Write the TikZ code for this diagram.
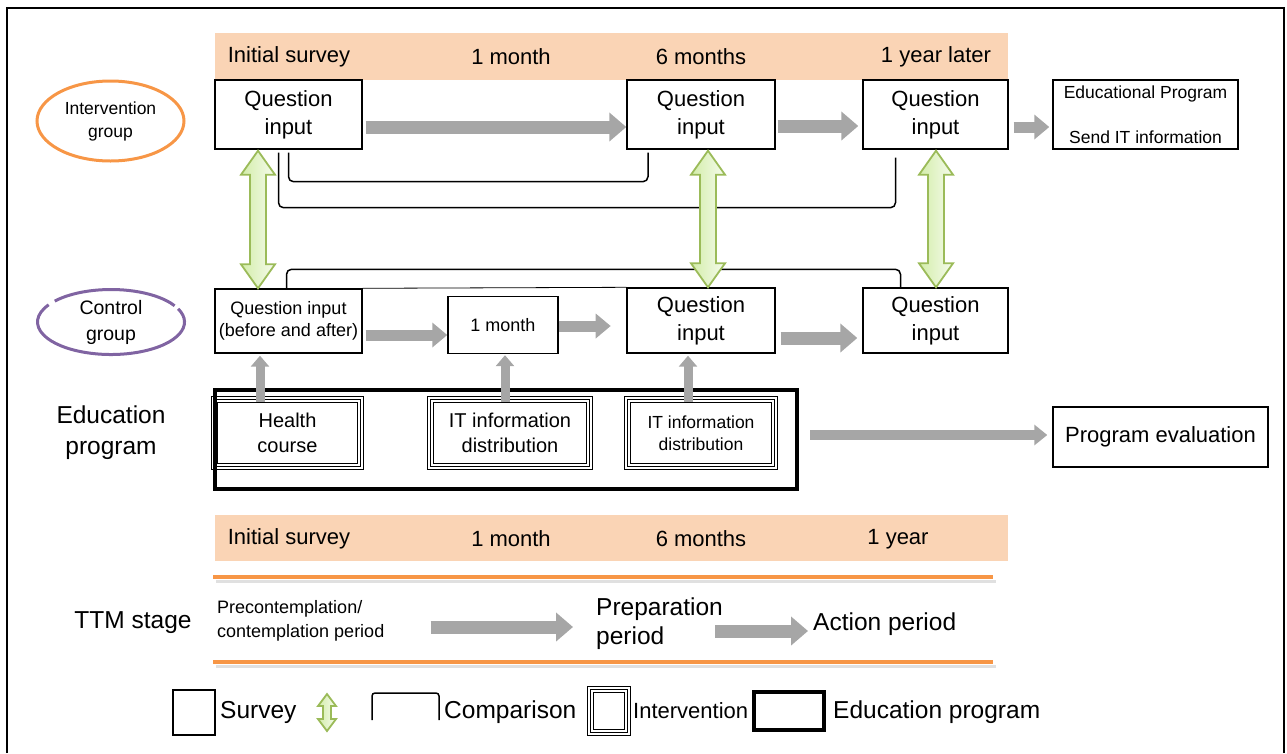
\documentclass[tikz,border=0pt]{standalone}
\usepackage{fontspec}
\setmainfont{Liberation Sans}
\usetikzlibrary{calc,arrows.meta,shapes.geometric}
\definecolor{band}{HTML}{FAD4B5}
\definecolor{agray}{HTML}{A6A6A6}
\definecolor{gline}{HTML}{9BBB59}
\definecolor{gfa}{HTML}{D3EDAA}
\definecolor{gfb}{HTML}{F5FBEC}
\definecolor{org}{HTML}{F79646}
\definecolor{purp}{HTML}{8064A2}
\newcommand\dblgreen[5]{%
 \path[gdbl] let \p1=(#1), \p2=(#2) in
 (\x1,\y1) -- (\x1+#3,\y1-#5) -- (\x1+#4,\y1-#5) -- (\x1+#4,\y2+#5) -- (\x1+#3,\y2+#5) -- (\x1,\y2)
 -- (\x1-#3,\y2+#5) -- (\x1-#4,\y2+#5) -- (\x1-#4,\y1-#5) -- (\x1-#3,\y1-#5) -- cycle;}
\newcommand\ivframe[1]{%
 \draw[line width=0.9pt] ([shift={(-2.3,-2.3)}]#1.north west) rectangle ([shift={(2.3,2.3)}]#1.south east);
 \draw[line width=0.8pt] ([shift={(-5.7,-5.7)}]#1.north west) rectangle ([shift={(5.7,5.7)}]#1.south east);}
\begin{document}
\begin{tikzpicture}[x=1pt,y=-1pt,
  box/.style={draw, line width=1.4pt, inner sep=0pt, align=center, fill=white},
  ivbox/.style={draw, line width=1pt, inner sep=0pt, align=center},
  thickbox/.style={draw, line width=4pt, inner sep=0pt},
  bandbox/.style={fill=band, inner sep=0pt},
  lbl/.style={inner sep=0pt, align=center},
  bigarr/.style={agray, line width=13pt, -{Triangle[width=28pt,length=17pt]}},
  medarr/.style={agray, line width=11pt, -{Triangle[width=24pt,length=15pt]}},
  varr/.style={agray, line width=9pt, -{Triangle[width=18pt,length=11pt]}},
  cmp/.style={draw, line width=1.5pt, rounded corners=5pt},
  gdbl/.style={draw=gline, line width=1.8pt, left color=gfa, right color=gfb},
  fA/.style={font=\fontsize{22}{28}\selectfont},
  fB/.style={font=\fontsize{24.5}{31}\selectfont}
]
\useasboundingbox (0,0) rectangle (1287,753);
% outer frame
\draw[line width=2pt] (7,753) -- (7,8) -- (1284,8) -- (1284,753);

% time bands
\node[bandbox, minimum width=793pt, minimum height=47pt] (TB) at (611.5,56.5) {};
\node[lbl, fA] (tb1) at (289,57) {Initial survey};
\node[lbl, fA] (tb2) at (511,57) {1 month};
\node[lbl, fA] (tb3) at (701,57) {6 months};
\node[lbl, fA] (tb4) at (936,57) {1 year later};
\node[bandbox, minimum width=793pt, minimum height=46pt] (BB) at (611.5,538) {};
\node[lbl, fA] (bb1) at (289,539) {Initial survey};
\node[lbl, fA] (bb2) at (511,539) {1 month};
\node[lbl, fA] (bb3) at (701,539) {6 months};
\node[lbl, fA] (bb4) at (898,539) {1 year};

% group ellipses
\node[ellipse, draw=org, line width=3pt, minimum width=147pt, minimum height=80pt, inner sep=0pt, align=center,
  font=\fontsize{17.5}{23}\selectfont] (IG) at (110.5,121) {Intervention\\group};
\node[ellipse, minimum width=147pt, minimum height=65pt, inner sep=0pt, align=center,
  font=\fontsize{19.5}{26}\selectfont] (CG) at (111,322) {Control\\group};
\draw[purp, line width=3pt] ($(CG.center)+({73.5*cos(-24)},{32.5*sin(-24)})$) arc[start angle=-24, end angle=212, x radius=73.5, y radius=32.5];
\draw[purp, line width=3pt] ($(CG.center)+({73.5*cos(220)},{32.5*sin(220)})$) arc[start angle=220, end angle=330, x radius=73.5, y radius=32.5];

% intervention row
\node[box, fA, minimum width=147pt, minimum height=69pt] (I1) at (288.5,114.5) {Question\\input};
\node[box, fA, minimum width=148pt, minimum height=69pt] (I2) at (701,114.5) {Question\\input};
\node[box, fA, minimum width=145pt, minimum height=69pt] (I3) at (935.5,114.5) {Question\\input};
\node[box, font=\fontsize{17.5}{21}\selectfont, minimum width=185pt, minimum height=69pt] (EP) at (1145.5,114.5) {Educational Program\\[24pt]Send IT information};

% control row
\node[box, font=\fontsize{18}{22}\selectfont, minimum width=147pt, minimum height=64pt] (C1) at (288.5,321) {Question input\\(before and after)};
\node[box, font=\fontsize{18}{22}\selectfont, minimum width=110pt, minimum height=57pt] (C2) at (503,325) {1 month};
\node[box, fA, minimum width=148pt, minimum height=65pt] (C3) at (701,320.5) {Question\\input};
\node[box, fA, minimum width=145pt, minimum height=65pt] (C4) at (935.5,320.5) {Question\\input};
\draw[line width=0.8pt] (C1.north east) -- (C3.north west);

% education program
\node[lbl, fB] (EL) at (111,433) {Education\\program};
\node[ivbox, font=\fontsize{20}{25}\selectfont, minimum width=139.6pt, minimum height=60.6pt] (H) at (287.5,433) {Health\\course};
\node[ivbox, font=\fontsize{20}{25}\selectfont, minimum width=152.6pt, minimum height=60.6pt] (IT1) at (510,433) {IT information\\distribution};
\node[ivbox, font=\fontsize{17.5}{22}\selectfont, minimum width=140.6pt, minimum height=60.6pt] (IT2) at (701,433) {IT information\\distribution};
\ivframe{H}
\ivframe{IT1}
\ivframe{IT2}
\node[thickbox, minimum width=582pt, minimum height=99pt] (EDU) at (506,439.5) {};
\node[box, font=\fontsize{22}{27}\selectfont, minimum width=215pt, minimum height=60pt] (PE) at (1160.5,437) {Program evaluation};

% gray arrows, top row
\draw[bigarr] ($(I1.east)+(3,12.5)$) -- ($(I2.west)+(0,12.5)$);
\draw[bigarr] ($(I2.east)+(2,11.5)$) -- ($(I3.west)+(-4,11.5)$);
\draw[medarr] ($(I3.east)+(5,12.5)$) -- ($(EP.west)+(-3,12.5)$);
% gray arrows, control row
\coordinate (a1) at ($(C1.east)+(3,14)$);
\draw[medarr] (a1) -- (a1 -| C2.west);
\coordinate (a2) at ($(C2.east)+(0,1)$);
\draw[medarr] (a2) -- ($(a2)+(52,0)$);
\coordinate (a3) at ($(C3.east)+(5,17.5)$);
\draw[bigarr] (a3) -- ($(a3 -| C4.west)+(-5,0)$);
% vertical arrows
\coordinate (v1) at ($(H.north)+(-27.5,0)$);
\draw[varr] (v1) -- ($(v1 |- C1.south)+(0,2)$);
\coordinate (v2) at ($(IT1.north)+(-5,0)$);
\draw[varr] (v2) -- ($(v2 |- C2.south)+(0,1)$);
\coordinate (v3) at ($(IT2.north)+(-13,0)$);
\draw[varr] (v3) -- ($(v3 |- C3.south)+(0,2)$);
% to program evaluation
\draw[agray, line width=10pt, -{Triangle[width=20pt,length=13pt]}] ($(EDU.east)+(11,-4.5)$) -- ($(PE.west)+(-5,-2)$);

% comparison brackets
\draw[cmp] ($(I1.south)+(0,3)$) -- ++(0,29) -| ($(I2.south)+(-53,3)$);
\draw[cmp] ($(I1.south)+(-10,3)$) -- ++(0,55) -| ($(I3.south)+(-40,8)$);
\draw[cmp] ($(C1.north)+(-2,0)$) -- ++(0,-19) -| ($(C4.north)+(-35,0)$);

% green double arrows
\coordinate (g1t) at ($(I1.south)+(-30.5,1)$);
\coordinate (g1b) at (g1t |- C1.north);
\dblgreen{g1t}{g1b}{17pt}{8pt}{24pt}
\coordinate (g2t) at ($(I2.south)+(7,1)$);
\coordinate (g2b) at (g2t |- C3.north);
\dblgreen{g2t}{g2b}{17pt}{8pt}{24pt}
\coordinate (g3t) at ($(I3.south)+(0.5,1)$);
\coordinate (g3b) at (g3t |- C4.north);
\dblgreen{g3t}{g3b}{17pt}{8pt}{24pt}

% TTM stage
\draw[black!12, line width=3pt] (216,581) -- (996,581);
\draw[org, line width=4pt] (213,577) -- (993,577);
\draw[black!12, line width=3pt] (216,666) -- (996,666);
\draw[org, line width=4pt] (213,662) -- (993,662);
\node[lbl, fB] (TTM) at (133,623) {TTM stage};
\node[anchor=west, inner sep=0pt, align=left, font=\fontsize{18}{24}\selectfont] (PC) at (217,621) {Precontemplation/\\contemplation period};
\node[anchor=west, inner sep=0pt, align=left, font=\fontsize{24.5}{29}\selectfont] (PP) at (596,624) {Preparation\\period};
\node[anchor=west, inner sep=0pt, fB] (AP) at (813,624) {Action period};
\draw[bigarr] ($(PC.east)+(46,6)$) -- ($(PP.west)+(-23,3)$);
\draw[bigarr] ($(PP.west)+(119,7)$) -- ($(AP.west)+(-5,7)$);

% legend
\node[draw, line width=1.4pt, minimum width=42pt, minimum height=45pt, inner sep=0pt] (LS) at (194,712.5) {};
\node[anchor=west, inner sep=0pt, fB] (LSt) at (220,712) {Survey};
\coordinate (lgt) at (327,694);
\coordinate (lgb) at (327,731);
\dblgreen{lgt}{lgb}{9pt}{4pt}{12pt}
\coordinate (lc1) at (372,720);
\coordinate (lc2) at (439,720);
\draw[cmp, rounded corners=3pt] (lc1) -- ++(0,-27) -| (lc2);
\node[anchor=west, inner sep=0pt, fB] (LCt) at (444,712) {Comparison};
\node[ivbox, minimum width=30.6pt, minimum height=36.6pt] (LI) at (609,711) {};
\ivframe{LI}
\node[anchor=west, inner sep=0pt, font=\fontsize{22}{27}\selectfont] (LIt) at (633,711) {Intervention};
\node[thickbox, minimum width=70pt, minimum height=38pt] (LE) at (789,711) {};
\node[anchor=west, inner sep=0pt, fB] (LEt) at (833,712) {Education program};
\end{tikzpicture}
\end{document}
